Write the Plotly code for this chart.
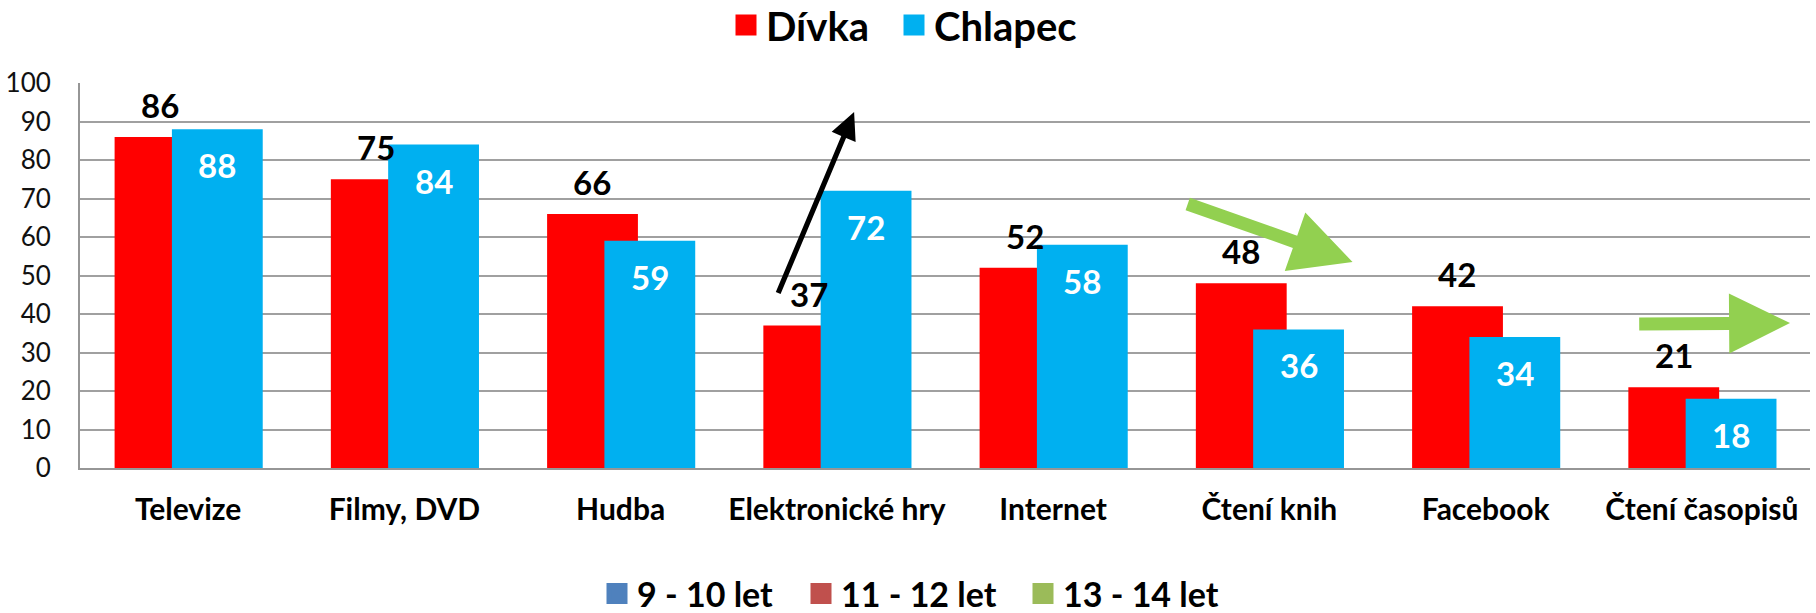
import math
import plotly.graph_objects as go

# ---------------- data ----------------
categories = ["Televize", "Filmy, DVD", "Hudba", "Elektronické hry",
              "Internet", "Čtení knih", "Facebook", "Čtení časopisů"]
divka = [86, 75, 66, 37, 52, 48, 42, 21]
chlapec = [88, 84, 59, 72, 58, 36, 34, 18]
series_names = ["Dívka", "Chlapec"]
series_colors = ["#FF0000", "#00B0F0"]
age_groups = ["9 - 10 let", "11 - 12 let", "13 - 14 let"]
age_colors = ["#4F81BD", "#C0504D", "#9BBB59"]
y_ticks = [0, 10, 20, 30, 40, 50, 60, 70, 80, 90, 100]

# ---------------- layout constants ----------------
W, H = 1816, 613
ML, MR, MT, MB = 78, 6, 83, 145
PW = W - ML - MR
PH = H - MT - MB
pitch = PW / len(categories)
BW = 0.42
OFFS = [-0.34, -0.075]
FONT = "Lato"
LEG_OFF = 20  # legend left edge -> symbol centre (px)
top_leg_centres = [746, 914]
bottom_leg_centres = [617, 821, 1043]

fig = go.Figure()

for vals, name, color, off in zip([divka, chlapec], series_names, series_colors, OFFS):
    fig.add_bar(x=categories, y=vals, name=name, marker=dict(color=color, line=dict(width=0)),
                width=BW, offset=off, showlegend=False, legendgroup=name)

legend_layouts = {}
top_ids = ["legend", "legend2"]
bottom_ids = ["legend3", "legend4", "legend5"]

# legend entries (top legend)
for name, color, lid, cx in zip(series_names, series_colors, top_ids, top_leg_centres):
    fig.add_scatter(x=[None], y=[None], mode="markers", name=name, legendgroup=name, legend=lid,
                    marker=dict(symbol="square", size=16, color=color,
                                line=dict(width=5, color=color)))
    legend_layouts[lid] = dict(orientation="h", xref="container", yref="container",
                               x=(cx - LEG_OFF) / W, xanchor="left",
                               y=1 - 25 / H, yanchor="middle",
                               font=dict(family=FONT, size=40, color="black", weight="bold"),
                               bgcolor="rgba(0,0,0,0)")

# bottom legend
for name, color, lid, cx in zip(age_groups, age_colors, bottom_ids, bottom_leg_centres):
    fig.add_scatter(x=[None], y=[None], mode="markers", name=name, legend=lid,
                    marker=dict(symbol="square", size=16, color=color,
                                line=dict(width=5, color=color)))
    legend_layouts[lid] = dict(orientation="h", xref="container", yref="container",
                               x=(cx - LEG_OFF) / W, xanchor="left",
                               y=1 - 594 / H, yanchor="middle",
                               font=dict(family=FONT, size=34, color="black", weight="bold"),
                               bgcolor="rgba(0,0,0,0)")

# data labels
for c, v in zip(categories, divka):
    fig.add_annotation(x=c, y=v, xref="x", yref="y", text=str(v), showarrow=False,
                       xshift=(OFFS[0] + BW / 2) * pitch, yshift=32, yanchor="middle",
                       font=dict(family=FONT, size=33, color="black", weight="bold"))
for c, v in zip(categories, chlapec):
    fig.add_annotation(x=c, y=v, xref="x", yref="y", text=str(v), showarrow=False,
                       xshift=(OFFS[1] + BW / 2) * pitch, yshift=-36, yanchor="middle",
                       font=dict(family=FONT, size=33, color="white", weight="bold"))


# ---------------- decorative arrows ----------------
def P(px, py):
    return (px - ML) / PW, (H - MB - py) / PH


def arrow_path(tail, tip, shaft_half, head_len, head_half):
    dx, dy = tip[0] - tail[0], tip[1] - tail[1]
    L = math.hypot(dx, dy)
    ux, uy = dx / L, dy / L
    nx, ny = -uy, ux
    bx, by = tip[0] - ux * head_len, tip[1] - uy * head_len
    pts = [
        (tail[0] + nx * shaft_half, tail[1] + ny * shaft_half),
        (bx + nx * shaft_half, by + ny * shaft_half),
        (bx + nx * head_half, by + ny * head_half),
        tip,
        (bx - nx * head_half, by - ny * head_half),
        (bx - nx * shaft_half, by - ny * shaft_half),
        (tail[0] - nx * shaft_half, tail[1] - ny * shaft_half),
    ]
    s = ""
    for i, (x, y) in enumerate(pts):
        px, py = P(x, y)
        s += ("M" if i == 0 else "L") + f"{px:.5f},{py:.5f} "
    return s + "Z"


arrows = [
    ((777, 293), (853, 112), 2.6, 27, 13, "black"),
    ((1187, 204), (1352, 262), 6.5, 61, 31, "#92D050"),
    ((1639, 324), (1790, 323), 6.5, 61, 30, "#92D050"),
]
for tail, tip, sh, hl, hh, col in arrows:
    fig.add_shape(type="path", path=arrow_path(tail, tip, sh, hl, hh), xref="paper", yref="paper",
                  fillcolor=col, line=dict(width=0), layer="above")

fig.update_layout(
    width=W, height=H,
    margin=dict(l=ML, r=MR, t=MT, b=MB, pad=0),
    paper_bgcolor="white", plot_bgcolor="white",
    barmode="overlay",
    font=dict(family=FONT, color="black"),
    xaxis=dict(type="category", range=[-0.5, len(categories) - 0.5],
               showline=True, linecolor="#969696", linewidth=2, ticks="",
               showgrid=False, ticklabelstandoff=14,
               tickfont=dict(family=FONT, size=30, color="black", weight="bold")),
    yaxis=dict(range=[0, 100], tickvals=y_ticks, showgrid=True, gridcolor="#A0A0A0",
               gridwidth=1.5, zeroline=False, showline=True, linecolor="#969696", linewidth=2,
               ticks="", ticklabelstandoff=22,
               tickfont=dict(family=FONT, size=26, color="#111111")),
    **legend_layouts,
)

fig.write_html("out.html", config={"displayModeBar": False},
               post_script="document.body.style.margin='0px';document.body.style.overflow='hidden';")
